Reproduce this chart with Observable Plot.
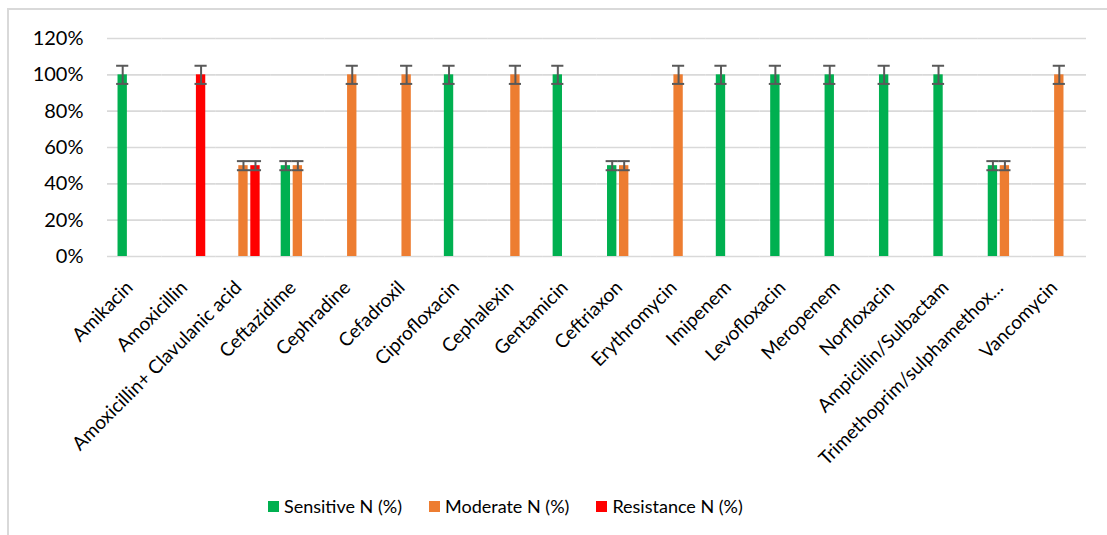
<!DOCTYPE html>
<html>
<head>
<meta charset="utf-8">
<script src="https://cdn.jsdelivr.net/npm/d3@7"></script>
<script src="https://cdn.jsdelivr.net/npm/@observablehq/plot@0.6"></script>
<style>
  html, body { margin: 0; padding: 0; background: #fff; }
  body { width: 1107px; height: 535px; position: relative; overflow: hidden; font-family: Lato, "Open Sans", sans-serif; }
  #frame { position: absolute; left: 7px; top: 8px; width: 1200px; height: 600px; border-left: 2px solid #d9d9d9; border-top: 2px solid #d9d9d9; }
  #chart { position: absolute; left: 0; top: 0; }
  #legend { position: absolute; left: 268px; top: 495px; display: flex; align-items: center; font-size: 18px; line-height: 22px; color: #000; }
  .item { display: flex; align-items: center; margin-right: 27px; }
  .sw { width: 11px; height: 11px; margin-right: 5px; }
</style>
</head>
<body>
<div id="frame"></div>
<div id="chart"></div>
<div id="legend"></div>
<script>
const drugs = ["Amikacin", "Amoxicillin", "Amoxicillin+ Clavulanic acid", "Ceftazidime", "Cephradine", "Cefadroxil", "Ciprofloxacin", "Cephalexin", "Gentamicin", "Ceftriaxon", "Erythromycin", "Imipenem", "Levofloxacin", "Meropenem", "Norfloxacin", "Ampicillin/Sulbactam", "Trimethoprim/sulphamethox…", "Vancomycin"];
const sensitive  = [100, 0, 0, 50, 0, 0, 100, 0, 100, 50, 0, 100, 100, 100, 100, 100, 50, 0];
const moderate   = [0, 0, 50, 50, 100, 100, 0, 100, 0, 50, 100, 0, 0, 0, 0, 0, 50, 100];
const resistance = [0, 100, 50, 0, 0, 0, 0, 0, 0, 0, 0, 0, 0, 0, 0, 0, 0, 0];
const seriesNames = ["Sensitive N (%)", "Moderate N (%)", "Resistance N (%)"];
const seriesColors = ["#00B050", "#ED7D31", "#FF0000"];
const yTicks = [0, 20, 40, 60, 80, 100, 120];
const errorFraction = 0.05;

const seriesValues = [sensitive, moderate, resistance];
const rows = [];
drugs.forEach((d, i) => {
  seriesNames.forEach((s, j) => {
    const v = seriesValues[j][i];
    if (v > 0) rows.push({drug: d, series: s, value: v, lo: v * (1 - errorFraction), hi: v * (1 + errorFraction)});
  });
});

const chart = Plot.plot({
  width: 1107,
  height: 480,
  marginLeft: 107,
  marginRight: 21,
  marginTop: 38,
  marginBottom: 224,
  style: {fontFamily: "Lato, 'Open Sans', sans-serif", color: "#000", background: "transparent"},
  fx: {domain: drugs, padding: 0, round: false, label: null},
  x: {domain: seriesNames, paddingInner: 0.22, paddingOuter: 0.877, round: false, axis: null},
  y: {domain: [0, 120], label: null},
  color: {domain: seriesNames, range: seriesColors},
  marks: [
    Plot.gridY(yTicks, {stroke: "#d9d9d9", strokeOpacity: 1, strokeWidth: 1.6}),
    Plot.axisY({ticks: yTicks, tickFormat: d => d + "%", tickSize: 0, tickPadding: 24, fontSize: 20, label: null}),
    Plot.axisFx({anchor: "bottom", tickRotate: -45, tickSize: 0, tickPadding: 28, fontSize: 19, label: null, dx: -5}),
    Plot.barY(rows, {fx: "drug", x: "series", y: "value", fill: "series"}),
    Plot.ruleX(rows, {fx: "drug", x: "series", y1: "lo", y2: "hi", stroke: "#595959", strokeWidth: 2}),
    Plot.tickY(rows, {fx: "drug", x: "series", y: "hi", stroke: "#595959", strokeWidth: 2, insetLeft: -1.4, insetRight: -1.4}),
    Plot.tickY(rows, {fx: "drug", x: "series", y: "lo", stroke: "#595959", strokeWidth: 2, insetLeft: -1.4, insetRight: -1.4})
  ]
});
document.getElementById("chart").appendChild(chart);

const legend = document.getElementById("legend");
seriesNames.forEach((s, j) => {
  const item = document.createElement("div");
  item.className = "item";
  const sw = document.createElement("div");
  sw.className = "sw";
  sw.style.background = seriesColors[j];
  const t = document.createElement("span");
  t.textContent = s;
  item.appendChild(sw);
  item.appendChild(t);
  legend.appendChild(item);
});
</script>
</body>
</html>
